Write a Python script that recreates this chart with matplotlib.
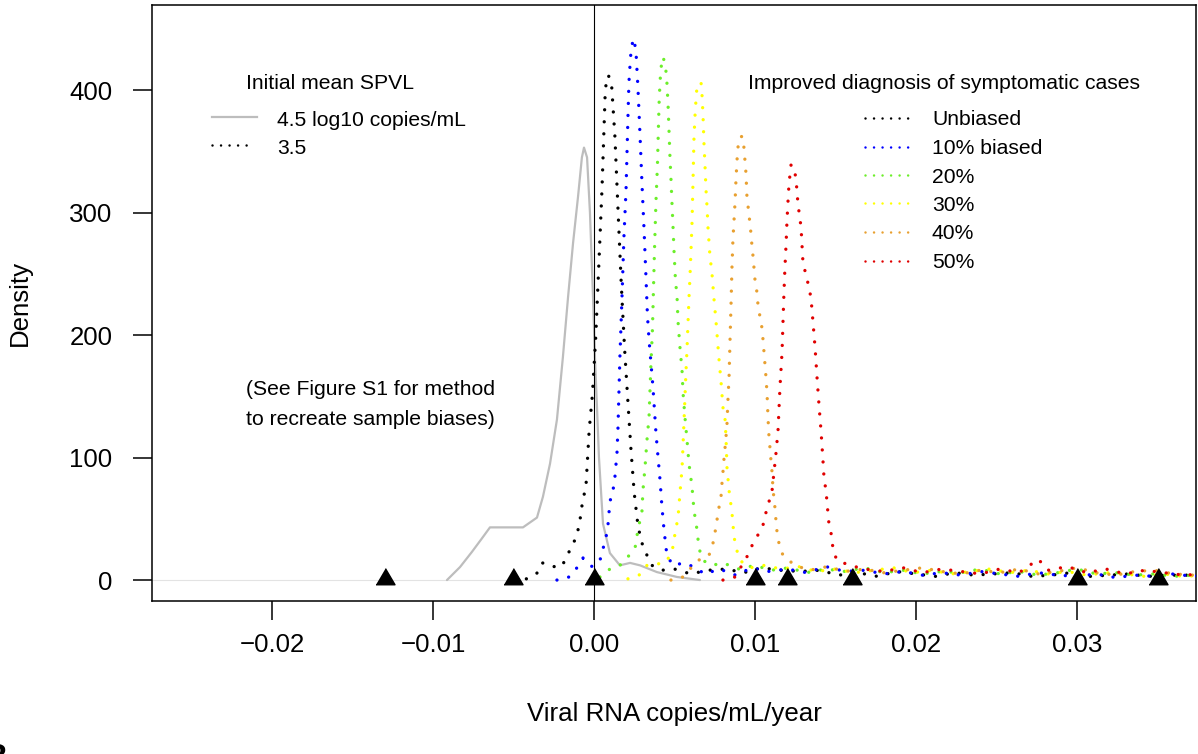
import matplotlib
matplotlib.use('Agg')
import matplotlib.pyplot as plt
from matplotlib.lines import Line2D

plt.rcParams['font.family'] = ['Liberation Sans', 'DejaVu Sans']

# ---------------- data ----------------
gray_x = [-0.00913, -0.00832, -0.00758, -0.00696, -0.00646, -0.00540, -0.00441, -0.00354,
          -0.00317, -0.00273, -0.00230, -0.00193, -0.00161, -0.00130, -0.00099, -0.00075,
          -0.00062, -0.00043, -0.00025, -0.00006, 0.00006, 0.00019, 0.00031, 0.00056,
          0.00099, 0.00161, 0.00224, 0.00286, 0.00391, 0.00516, 0.00658]
gray_y = [0, 10.6, 23, 34, 43, 43, 43, 51, 68, 95, 131, 182, 231, 275, 313, 345,
          353, 345, 300, 231, 182, 140, 100, 46, 22, 12, 14, 12, 6.5, 2.5, 0]

black_x = [-0.0042, -0.0035, -0.0032, -0.0026, -0.0020, -0.0017, -0.0014, -0.0011, -0.0009,
           -0.0007, -0.0005, -0.0003, -0.0001, 0.0001, 0.0003, 0.0005, 0.0007, 0.0008, 0.0009,
           0.0011, 0.0013, 0.0015, 0.0017, 0.0019, 0.0021, 0.0023, 0.0025, 0.0027, 0.0029,
           0.0031, 0.0033, 0.0036, 0.0042,
           0.0050, 0.0060, 0.0071, 0.0082, 0.0093, 0.0104, 0.0116, 0.0128, 0.0140, 0.0152,
           0.0164, 0.0176, 0.0188, 0.0200, 0.0212, 0.0224, 0.0236, 0.0248, 0.0260, 0.0272,
           0.0284, 0.0296, 0.0308, 0.0320, 0.0332, 0.0344, 0.0356, 0.0368, 0.0380]
black_y = [1, 6, 14, 11, 11, 19, 27, 35, 46, 65, 76, 122, 151, 196, 257, 320, 399, 410, 412,
           403, 362, 300, 240, 189, 147, 106, 71, 48, 33, 26, 20, 12, 8,
           9, 5, 8, 9, 6, 10, 8, 7, 8, 4, 6, 3, 7, 5, 3, 6, 4, 5, 6, 3, 4, 6, 3, 4, 5, 3, 4, 4, 3]

blue_x = [-0.00230, -0.00155, -0.00106, -0.00068, -0.00012, 0.00037, 0.00075, 0.00087, 0.00099,
          0.00118, 0.00130, 0.00143, 0.00149, 0.00155, 0.00161, 0.00174, 0.00186, 0.00199,
          0.00211, 0.00217, 0.00227, 0.00236, 0.00248, 0.00261, 0.00273, 0.00286, 0.00298,
          0.00311, 0.00323, 0.00332, 0.00342, 0.00354, 0.00366, 0.00385, 0.00398, 0.00410,
          0.00422, 0.00435, 0.00453, 0.00491, 0.00559, 0.00615, 0.00689,
          0.0078, 0.0088, 0.0098, 0.0108, 0.0120, 0.0132, 0.0144, 0.0156, 0.0168, 0.0180,
          0.0192, 0.0204, 0.0216, 0.0228, 0.0240, 0.0252, 0.0264, 0.0276, 0.0288, 0.0300,
          0.0312, 0.0324, 0.0336, 0.0348, 0.0360, 0.0372, 0.0380]
blue_y = [0, 2.5, 10, 18, 11, 16, 35, 45, 64, 73, 84, 104, 124, 153, 182, 231, 280, 318,
          378, 406, 427, 437, 442, 431, 402, 363, 324, 286, 247, 216, 196, 177, 158, 120,
          100, 82, 60, 41, 20, 12, 14, 11, 5,
          9, 4, 10, 7, 9, 6, 11, 7, 8, 5, 7, 4, 6, 4, 7, 5, 3, 6, 4, 3, 5, 2, 4, 3, 5, 3, 4]

green_x = [0.00037, 0.00099, 0.00161, 0.00211, 0.00255, 0.00273, 0.00298, 0.00304, 0.00317,
           0.00329, 0.00342, 0.00348, 0.00354, 0.00363, 0.00370, 0.00376, 0.00385, 0.00394,
           0.00404, 0.00410, 0.00416, 0.00429, 0.00444, 0.00453, 0.00460, 0.00466, 0.00472,
           0.00478, 0.00484, 0.00491, 0.00497, 0.00506, 0.00516, 0.00522, 0.00534, 0.00547,
           0.00553, 0.00565, 0.00578, 0.00590, 0.00609, 0.00621, 0.00640, 0.00652, 0.00677,
           0.00733, 0.00801,
           0.0090, 0.0100, 0.0110, 0.0121, 0.0132, 0.0144, 0.0156, 0.0168, 0.0180, 0.0192,
           0.0204, 0.0216, 0.0228, 0.0240, 0.0252, 0.0264, 0.0276, 0.0288, 0.0300, 0.0312,
           0.0324, 0.0336, 0.0348, 0.0360, 0.0372, 0.0380]
green_y = [2.5, 9, 12, 19, 26, 41, 56, 73, 92, 114, 133, 155, 177, 204, 240, 270, 309, 338,
           388, 406, 418, 427, 420, 406, 388, 367, 345, 328, 309, 288, 269, 245, 231, 211,
           190, 171, 153, 133, 114, 95, 76, 57, 41, 26, 16, 12, 14,
           9, 12, 8, 10, 6, 9, 7, 10, 6, 8, 5, 7, 6, 9, 5, 7, 4, 6, 9, 5, 6, 4, 5, 3, 4, 3]

yellow_x = [0.00211, 0.00280, 0.00329, 0.00441, 0.00484, 0.00497, 0.00509, 0.00522, 0.00534,
            0.00547, 0.00553, 0.00559, 0.00565, 0.00571, 0.00578, 0.00584, 0.00590, 0.00596,
            0.00602, 0.00609, 0.00615, 0.00621, 0.00627, 0.00634, 0.00640, 0.00652, 0.00665,
            0.00671, 0.00677, 0.00683, 0.00689, 0.00696, 0.00702, 0.00708, 0.00720, 0.00733,
            0.00745, 0.00758, 0.00764, 0.00776, 0.00789, 0.00801, 0.00814, 0.00820, 0.00826,
            0.00839, 0.00857, 0.00870, 0.00888, 0.00907, 0.00969,
            0.0106, 0.0116, 0.0127, 0.0138, 0.0150, 0.0162, 0.0174, 0.0186, 0.0198, 0.0210,
            0.0222, 0.0234, 0.0246, 0.0258, 0.0270, 0.0282, 0.0294, 0.0306, 0.0318, 0.0330,
            0.0342, 0.0354, 0.0366, 0.0380]
yellow_y = [1, 4, 12, 14, 22, 33, 42, 51, 71, 91, 110, 129, 149, 169, 189, 210, 230, 247,
            267, 292, 325, 360, 378, 393, 403, 406, 406, 396, 380, 357, 340, 318, 305, 288,
            265, 250, 230, 211, 201, 181, 162, 141, 131, 116, 92, 73, 55, 35, 24, 16, 10,
            12, 9, 11, 7, 9, 6, 8, 10, 6, 8, 5, 7, 9, 6, 8, 5, 7, 4, 6, 5, 3, 5, 3, 4]

orange_x = [0.00478, 0.00547, 0.00646, 0.00714, 0.00739, 0.00752, 0.00764, 0.00776, 0.00789,
            0.00795, 0.00801, 0.00807, 0.00814, 0.00820, 0.00826, 0.00832, 0.00839, 0.00845,
            0.00851, 0.00857, 0.00863, 0.00870, 0.00876, 0.00882, 0.00888, 0.00894, 0.00907,
            0.00925, 0.00932, 0.00938, 0.00944, 0.00950, 0.00963, 0.00975, 0.00981, 0.00988,
            0.01000, 0.01012, 0.01019, 0.01031, 0.01043, 0.01050, 0.01056, 0.01062, 0.01068,
            0.01075, 0.01081, 0.01087, 0.01093, 0.01099, 0.01106, 0.01112, 0.01124, 0.01130,
            0.01137, 0.01149, 0.01174, 0.01248,
            0.0134, 0.0145, 0.0156, 0.0168, 0.0180, 0.0192, 0.0204, 0.0216, 0.0228, 0.0240,
            0.0252, 0.0264, 0.0276, 0.0288, 0.0300, 0.0312, 0.0324, 0.0336, 0.0348, 0.0360,
            0.0372, 0.0380]
orange_y = [0, 2, 16, 20, 30, 39, 49, 59, 68, 79, 88, 98, 108, 117, 127, 147, 166, 196,
            224, 255, 278, 294, 308, 327, 342, 353, 362, 362, 352, 342, 332, 313, 298, 283,
            273, 264, 245, 235, 224, 215, 206, 196, 186, 176, 166, 152, 132, 117, 108, 98,
            88, 74, 59, 49, 39, 30, 20, 12,
            8, 11, 7, 9, 6, 8, 10, 7, 5, 8, 6, 9, 5, 7, 10, 6, 4, 7, 8, 5, 4, 5]

red_x = [0.00801, 0.00876, 0.00950, 0.00981, 0.01019, 0.01050, 0.01068, 0.01087, 0.01106,
         0.01118, 0.01130, 0.01143, 0.01155, 0.01168, 0.01174, 0.01180, 0.01186, 0.01193,
         0.01199, 0.01205, 0.01211, 0.01224, 0.01242, 0.01255, 0.01267, 0.01286, 0.01298,
         0.01317, 0.01335, 0.01348, 0.01360, 0.01373, 0.01385, 0.01398, 0.01410, 0.01422,
         0.01429, 0.01441, 0.01453, 0.01460, 0.01478, 0.01484, 0.01509, 0.01590,
         0.0168, 0.0180, 0.0192, 0.0204, 0.0216, 0.0228, 0.0240, 0.0252, 0.0264, 0.0276,
         0.0282, 0.0294, 0.0306, 0.0318, 0.0330, 0.0342, 0.0354, 0.0366, 0.0380]
red_y = [0, 2.5, 19, 28, 37, 45, 55, 64, 73, 88, 103, 122, 157, 186, 211, 235, 255, 274,
         294, 309, 323, 339, 337, 327, 307, 288, 259, 249, 239, 230, 211, 190, 166, 142,
         122, 98, 83, 73, 55, 45, 35, 25, 16, 12,
         9, 7, 10, 6, 9, 7, 5, 9, 6, 17, 8, 11, 6, 9, 5, 8, 6, 4, 5]

marker_x = [-0.013, -0.005, 0.0, 0.010, 0.012, 0.016, 0.030, 0.035]
marker_y = [0, 0, 0, 0, 0, 0, 0, 0]

xticks = [-0.02, -0.01, 0.0, 0.01, 0.02, 0.03]
xtick_labels = ['\u22120.02', '\u22120.01', '0.00', '0.01', '0.02', '0.03']
yticks = [0, 100, 200, 300, 400]
ytick_labels = ['0', '100', '200', '300', '400']

series_labels = ['Unbiased', '10% biased', '20%', '30%', '40%', '50%']
series_colors = ['black', '#0000FF', '#6CEE2A', '#FFFF00', '#E8A030', '#E00000']

# ---------------- figure ----------------
W, H = 1198, 754
fig = plt.figure(figsize=(W / 100, H / 100), dpi=100)


def fx(px):
    return px / W


def fy(py):
    return 1 - py / H


ax = fig.add_axes([fx(152), fy(601), fx(1196) - fx(152), fy(5) - fy(601)])
ax.set_xlim(-0.02745, 0.03739)
ax.set_ylim(-17.1, 469.4)

for s in ax.spines.values():
    s.set_linewidth(1.1)

ax.axhline(0, color='#e3e3e3', lw=0.8, zorder=1)
ax.plot(gray_x, gray_y, color='#BDBDBD', lw=1.6, solid_capstyle='round',
        solid_joinstyle='round', zorder=2)

DOT = dict(linestyle=(0, (0.01, 3.6)), dash_capstyle='round', lw=2.4, zorder=3)
series = [(black_x, black_y), (blue_x, blue_y), (green_x, green_y),
          (yellow_x, yellow_y), (orange_x, orange_y), (red_x, red_y)]
for (sx, sy), c in zip(series, series_colors):
    ax.plot(sx, sy, color=c, **DOT)

ax.axvline(0, color='black', lw=0.8, zorder=4)

tri = [(-1, -0.45), (1, -0.45), (0, 1.25)]
ax.plot(marker_x, marker_y, linestyle='none', marker=tri, markersize=17.1,
        color='black', zorder=6, clip_on=False)

ax.set_xticks(xticks)
ax.set_xticklabels(xtick_labels)
ax.set_yticks(yticks)
ax.set_yticklabels(ytick_labels)
ax.tick_params(axis='both', direction='out', length=14, width=1.1, labelsize=18.6)
ax.tick_params(axis='x', pad=9)
ax.tick_params(axis='y', pad=14.4)

fig.text(fx(674), fy(721), 'Viral RNA copies/mL/year', ha='center', va='baseline',
         fontsize=18.6)
fig.text(fx(27), fy(303), 'Density', rotation=90, rotation_mode='anchor',
         ha='center', va='baseline', fontsize=18.6)

# ---------------- legends ----------------
FS = 15.2
LDOT = dict(lw=1.8, linestyle=(0, (0.01, 3.4)), dash_capstyle='round')
fig.text(fx(246), fy(89), 'Initial mean SPVL', ha='left', va='baseline', fontsize=FS)
fig.add_artist(Line2D([fx(212), fx(257)], [fy(117), fy(117)], color='#BDBDBD', lw=1.6,
                      transform=fig.transFigure))
fig.text(fx(277), fy(126), '4.5 log10 copies/mL', ha='left', va='baseline', fontsize=FS)
fig.add_artist(Line2D([fx(212), fx(254)], [fy(145), fy(145)], color='black',
                      transform=fig.transFigure, **LDOT))
fig.text(fx(277), fy(154), '3.5', ha='left', va='baseline', fontsize=FS)

fig.text(fx(748), fy(89), 'Improved diagnosis of symptomatic cases', ha='left',
         va='baseline', fontsize=FS)
line_y = [118, 147, 175, 203, 232, 261]
base_y = [125, 154, 183, 211, 239, 268]
for lab, c, ly, by in zip(series_labels, series_colors, line_y, base_y):
    fig.add_artist(Line2D([fx(865), fx(908)], [fy(ly), fy(ly)], color=c,
                          transform=fig.transFigure, **LDOT))
    fig.text(fx(932), fy(by), lab, ha='left', va='baseline', fontsize=FS)

fig.text(fx(246), fy(395), '(See Figure S1 for method', ha='left', va='baseline', fontsize=FS)
fig.text(fx(246), fy(425), 'to recreate sample biases)', ha='left', va='baseline', fontsize=FS)

fig.text(fx(-16), fy(767), 'B', ha='left', va='baseline', fontsize=24, fontweight='bold')

fig.savefig('out.png', dpi=100)
